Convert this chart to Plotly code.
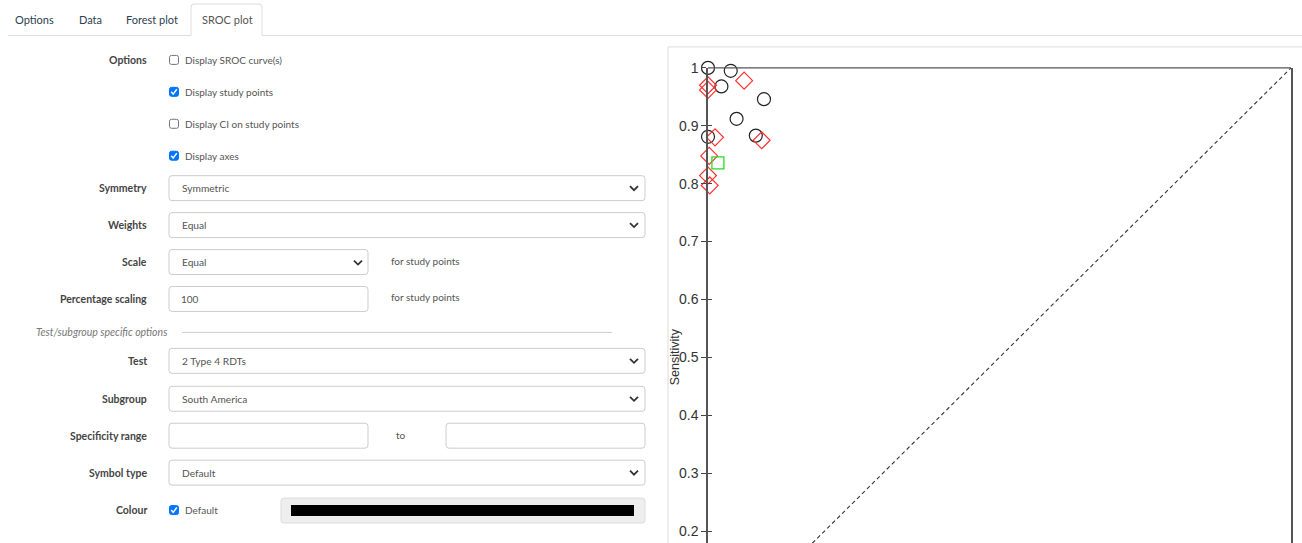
import plotly.graph_objects as go

W, H = 1302, 543
# the photographed page shows the figure 7px lower and ~1.3% shorter; compensate
Y_OFF, Y_SPAN = 7.0, 536.0

# ---------------- data ----------------
tick_vals = [0.2, 0.3, 0.4, 0.5, 0.6, 0.7, 0.8, 0.9, 1.0]
tick_text = ["0.2", "0.3", "0.4", "0.5", "0.6", "0.7", "0.8", "0.9", "1"]

circle_fpr = [0.000, 0.039, 0.023, 0.096, 0.049, 0.000, 0.082]
circle_sens = [1.000, 0.995, 0.968, 0.946, 0.912, 0.881, 0.883]

diamond_fpr = [0.062, 0.000, 0.000, 0.012, 0.092, 0.002, 0.000, 0.003]
diamond_sens = [0.978, 0.970, 0.962, 0.880, 0.875, 0.848, 0.814, 0.797]

square_fpr = [0.017]
square_sens = [0.836]

chance_x = [0, 1]
chance_y = [0, 1]

tabs = ["Options", "Data", "Forest plot", "SROC plot"]
option_boxes = ["Display SROC curve(s)", "Display study points",
                "Display CI on study points", "Display axes"]
option_checked = [False, True, False, True]

UI_FONT = "Lato"


def fx(p):
    return p / W


def fy(p):
    return 1 - (p - Y_OFF) / Y_SPAN


def pth(cmds):
    s = ""
    for c, *pts in cmds:
        s += c + " ".join(f"{fx(pts[i]):.5f},{fy(pts[i+1]):.5f}" for i in range(0, len(pts), 2)) + " "
    return s


def rrect(x0, y0, x1, y1, r=3):
    return pth([("M", x0 + r, y0), ("L", x1 - r, y0), ("Q", x1, y0, x1, y0 + r),
                ("L", x1, y1 - r), ("Q", x1, y1, x1 - r, y1), ("L", x0 + r, y1),
                ("Q", x0, y1, x0, y1 - r), ("L", x0, y0 + r), ("Q", x0, y0, x0 + r, y0)]) + "Z"


shapes = []
annots = []


def text(x, y, s, size=10, color="#555", anchor="left", bold=False, italic=False, font=UI_FONT):
    if bold:
        s = f"<b>{s}</b>"
    if italic:
        s = f"<i>{s}</i>"
    annots.append(dict(x=fx(x), y=fy(y), xref="paper", yref="paper", text=s, showarrow=False,
                       xanchor=anchor, yanchor="middle",
                       font=dict(family=font, size=size, color=color)))


def line(x0, y0, x1, y1, color="#ddd", width=1, dash=None):
    d = dict(type="line", xref="paper", yref="paper", x0=fx(x0), y0=fy(y0), x1=fx(x1), y1=fy(y1),
             line=dict(color=color, width=width))
    if dash:
        d["line"]["dash"] = dash
    shapes.append(d)


def box(x0, y0, x1, y1, fill="white", border="#ccc", r=3):
    shapes.append(dict(type="path", xref="paper", yref="paper", path=rrect(x0, y0, x1, y1, r),
                       fillcolor=fill, line=dict(color=border, width=1), layer="below"))


def chevron(cx, cy):
    shapes.append(dict(type="path", xref="paper", yref="paper",
                       path=pth([("M", cx - 4, cy - 2), ("L", cx, cy + 2), ("L", cx + 4, cy - 2)]),
                       line=dict(color="#333", width=1.8)))


def checkbox(cx, cy, checked):
    if checked:
        shapes.append(dict(type="path", xref="paper", yref="paper",
                           path=rrect(cx - 4.5, cy - 4.5, cx + 4.5, cy + 4.5, 2),
                           fillcolor="#0075ff", line=dict(color="#0075ff", width=1)))
        shapes.append(dict(type="path", xref="paper", yref="paper",
                           path=pth([("M", cx - 2.8, cy), ("L", cx - 0.8, cy + 2.3), ("L", cx + 2.8, cy - 2.6)]),
                           line=dict(color="white", width=1.5)))
    else:
        shapes.append(dict(type="path", xref="paper", yref="paper",
                           path=rrect(cx - 4.5, cy - 4.5, cx + 4.5, cy + 4.5, 2),
                           fillcolor="white", line=dict(color="#767676", width=1)))


# ---------------- tabs ----------------
tab_x = [34, 90, 152, 227]
for t, x in zip(tabs, tab_x):
    text(x, 19, t, size=11, color="#555" if t == "SROC plot" else "#2c3e50", anchor="center")
line(8, 34.5, 191, 34.5)
line(262, 34.5, W, 34.5)
shapes.append(dict(type="path", xref="paper", yref="paper",
                   path=pth([("M", 191, 34.5), ("L", 191, 6), ("Q", 191, 3, 194, 3), ("L", 259, 3),
                             ("Q", 262, 3, 262, 6), ("L", 262, 34.5)]),
                   line=dict(color="#ddd", width=1)))

# ---------------- options form ----------------
LBL_X = 149
LBL = dict(bold=True, anchor="right", color="#444", size=10.5)
text(LBL_X, 59, "Options", **LBL)
for i, (lab, chk) in enumerate(zip(option_boxes, option_checked)):
    y = 59 + 32 * i
    checkbox(174, y, chk)
    text(183, y, lab, size=10, color="#555")

wide_selects = [("Symmetry", "Symmetric", 175, 200),
                ("Weights", "Equal", 212, 237),
                ("Test", "2 Type 4 RDTs", 348, 373),
                ("Subgroup", "South America", 386, 411),
                ("Symbol type", "Default", 460, 485)]
for lab, val, y0, y1 in wide_selects:
    yc = (y0 + y1) / 2
    text(LBL_X, yc, lab, **LBL)
    box(169, y0, 645, y1)
    text(180, yc, val, size=10.2, color="#555")
    chevron(634, yc)

# Scale select
text(LBL_X, 261.5, "Scale", **LBL)
box(169, 249, 368, 274)
text(180, 261.5, "Equal", size=10.2)
chevron(358, 262)
text(389, 260, "for study points", size=10)

# Percentage scaling
text(LBL_X, 298.5, "Percentage scaling", **LBL)
box(169, 286, 368, 311)
text(179, 298.5, "100", size=10)
text(389, 297, "for study points", size=10)

# Section header
text(34, 332, "Test/subgroup specific options", size=10.5, color="#777", italic=True)
line(182, 332, 612, 332, color="#ccc")

# Specificity range
text(LBL_X, 435.5, "Specificity range", **LBL)
box(169, 423, 368, 448)
text(394, 435, "to", size=10)
box(446, 423, 645, 448)

# Colour
text(LBL_X, 510, "Colour", **LBL)
checkbox(174, 510, True)
text(183, 510, "Default", size=10)
box(281, 498, 645, 523, fill="#eee", border="#ddd")
shapes.append(dict(type="rect", xref="paper", yref="paper", x0=fx(291), x1=fx(634), y0=fy(505), y1=fy(516),
                   fillcolor="black", line=dict(width=0)))

# ---------------- plot container ----------------
line(668, 46, W, 46, color="#ddd")
line(668, 46, 668, H, color="#ddd")

# plot frame top line
PX0, PX1, PY_TOP = 708, 1291, 67
line(PX0, PY_TOP, PX1, PY_TOP, color="#555", width=1.3)

# y axis label
annots.append(dict(x=fx(675), y=0.5, xref="paper", yref="y", text="Sensitivity", textangle=-90,
                   showarrow=False, xanchor="center", yanchor="middle",
                   font=dict(family="Liberation Sans", size=12.5, color="#333")))

# ---------------- data traces ----------------
fig = go.Figure()
fig.add_trace(go.Scatter(x=chance_x, y=chance_y, mode="lines", xaxis="x", yaxis="y2",
                         line=dict(color="#333", width=1.1, dash="4px,3px"), hoverinfo="skip",
                         showlegend=False))
fig.add_trace(go.Scatter(x=circle_fpr, y=circle_sens, mode="markers", cliponaxis=False,
                         marker=dict(symbol="circle-open", size=13, color="#222", line=dict(width=1.2)),
                         showlegend=False))
fig.add_trace(go.Scatter(x=diamond_fpr, y=diamond_sens, mode="markers", cliponaxis=False,
                         marker=dict(symbol="diamond-open", size=13, color="#ff3030", line=dict(width=1.2)),
                         showlegend=False))
fig.add_trace(go.Scatter(x=square_fpr, y=square_sens, mode="markers", cliponaxis=False,
                         marker=dict(symbol="square-open", size=12, color="#22dd22", line=dict(width=1.3)),
                         showlegend=False))

# visible y extent: from sensitivity 1 at the frame top down to the bottom of the page
ytop = 1.0
ybot = 1.0 - (H - PY_TOP) / 580.0
yrange = [ybot, ytop]
ydom = [0, fy(PY_TOP)]

fig.update_layout(
    autosize=True, margin=dict(l=0, r=0, t=0, b=0),
    paper_bgcolor="white", plot_bgcolor="rgba(0,0,0,0)",
    showlegend=False,
    xaxis=dict(domain=[fx(PX0), fx(PX1)], range=[0, 1], visible=False, fixedrange=True),
    yaxis=dict(domain=ydom, range=yrange, anchor="x", showgrid=False, zeroline=False,
               showline=True, mirror=True, linecolor="#555", linewidth=1.5,
               ticks="outside", ticklen=5, tickcolor="#444", tickwidth=1,
               tickvals=tick_vals, ticktext=tick_text,
               tickfont=dict(family="Liberation Sans", size=14, color="#333"), fixedrange=True),
    yaxis2=dict(domain=ydom, range=yrange, anchor="x", overlaying="y", side="left",
                showgrid=False, zeroline=False, showline=False,
                ticks="inside", ticklen=4, tickcolor="#444", tickwidth=1,
                tickvals=tick_vals, showticklabels=False, fixedrange=True),
    shapes=shapes, annotations=annots,
)

fig.write_html("out.html", config={"displayModeBar": False, "responsive": True},
               default_width=f"{W}px; position:fixed; left:0; top:0",
               default_height=f"{H}px",
               post_script="document.body.style.margin='0';document.body.style.overflow='hidden';")
